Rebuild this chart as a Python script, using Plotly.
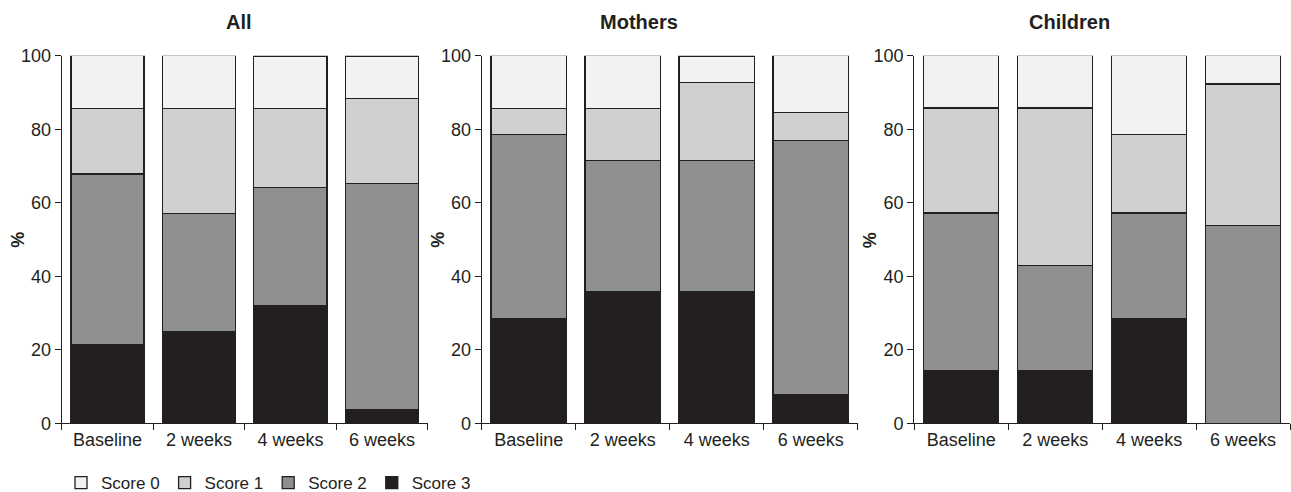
import plotly.graph_objects as go

timepoints = ["Baseline", "2 weeks", "4 weeks", "6 weeks"]
panel_titles = ["All", "Mothers", "Children"]
score_names = ["Score 0", "Score 1", "Score 2", "Score 3"]

# Percentage of participants at each score, per time point
all_score0 = [14.3, 14.3, 14.3, 11.5]
all_score1 = [17.9, 28.6, 21.4, 23.1]
all_score2 = [46.4, 32.1, 32.1, 61.5]
all_score3 = [21.4, 25.0, 32.1, 3.8]

mothers_score0 = [14.3, 14.3, 7.1, 15.4]
mothers_score1 = [7.1, 14.3, 21.4, 7.7]
mothers_score2 = [50.0, 35.7, 35.7, 69.2]
mothers_score3 = [28.6, 35.7, 35.7, 7.7]

children_score0 = [14.3, 14.3, 21.4, 7.7]
children_score1 = [28.6, 42.9, 21.4, 38.5]
children_score2 = [42.9, 28.6, 28.6, 53.8]
children_score3 = [14.3, 14.3, 28.6, 0.0]

panel_data = [
    [all_score0, all_score1, all_score2, all_score3],
    [mothers_score0, mothers_score1, mothers_score2, mothers_score3],
    [children_score0, children_score1, children_score2, children_score3],
]

score_colors = ["#f1f2f2", "#cfd0d2", "#8e8f91", "#231f20"]
ink = "#231f20"
font_family = "Liberation Sans, Arial, Helvetica, sans-serif"

W, H = 1291, 492
x_domains_px = [(61.7, 427.7), (481.7, 857.7), (914.3, 1290.0)]
y_bottom_px, y_top_px = 423.3, 55.7
y_domain = [(H - y_bottom_px) / H, (H - y_top_px) / H]
title_centers_px = [239, 639, 1069]

fig = go.Figure()

for p, scores in enumerate(panel_data):
    xa = "x" if p == 0 else f"x{p + 1}"
    ya = "y" if p == 0 else f"y{p + 1}"
    # stack from the highest score at the bottom up to score 0 on top
    for s in [3, 2, 1, 0]:
        fig.add_trace(go.Bar(
            x=timepoints,
            y=scores[s],
            name=score_names[s],
            legendgroup=score_names[s],
            legendrank=s,
            showlegend=(p == 0),
            marker=dict(color=score_colors[s], line=dict(color=ink, width=1.3)),
            width=0.8,
            xaxis=xa,
            yaxis=ya,
            hoverinfo="skip",
        ))

axis_common = dict(
    showline=True, linecolor=ink, linewidth=1.3,
    ticks="outside", ticklen=6, tickwidth=1.3, tickcolor=ink,
    showgrid=False, zeroline=False, automargin=False,
    tickfont=dict(family=font_family, size=18, color=ink),
)

layout_axes = {}
for p in range(3):
    xkey = "xaxis" if p == 0 else f"xaxis{p + 1}"
    ykey = "yaxis" if p == 0 else f"yaxis{p + 1}"
    x0, x1 = x_domains_px[p]
    layout_axes[xkey] = dict(
        axis_common,
        domain=[x0 / W, x1 / W],
        anchor="y" if p == 0 else f"y{p + 1}",
        type="category",
        tickson="boundaries",
        range=[-0.5, 3.5],
    )
    layout_axes[ykey] = dict(
        axis_common,
        domain=y_domain,
        anchor="x" if p == 0 else f"x{p + 1}",
        range=[0, 100],
        tickvals=[0, 20, 40, 60, 80, 100],
    )

annotations = []
for p in range(3):
    annotations.append(dict(
        text=f"<b>{panel_titles[p]}</b>", x=title_centers_px[p] / W, y=(H - 22) / H,
        xref="paper", yref="paper", xanchor="center", yanchor="middle",
        showarrow=False, font=dict(family=font_family, size=20, color=ink),
    ))
    annotations.append(dict(
        text="<b>%</b>", x=(x_domains_px[p][0] - 44) / W, y=(H - 240) / H,
        xref="paper", yref="paper", xanchor="center", yanchor="middle",
        textangle=-90, showarrow=False,
        font=dict(family=font_family, size=18, color=ink),
    ))

fig.update_layout(
    **layout_axes,
    template="none",
    barmode="stack",
    width=W, height=H,
    margin=dict(l=0, r=0, t=0, b=0, autoexpand=False),
    paper_bgcolor="white", plot_bgcolor="white",
    font=dict(family=font_family, size=18, color=ink),
    annotations=annotations,
    legend=dict(
        orientation="h", x=61 / W, y=(H - 483) / H,
        xanchor="left", yanchor="middle",
        font=dict(family=font_family, size=17, color=ink),
        bgcolor="rgba(0,0,0,0)", borderwidth=0,
        traceorder="normal",
    ),
)

fig.write_html("out.html")
